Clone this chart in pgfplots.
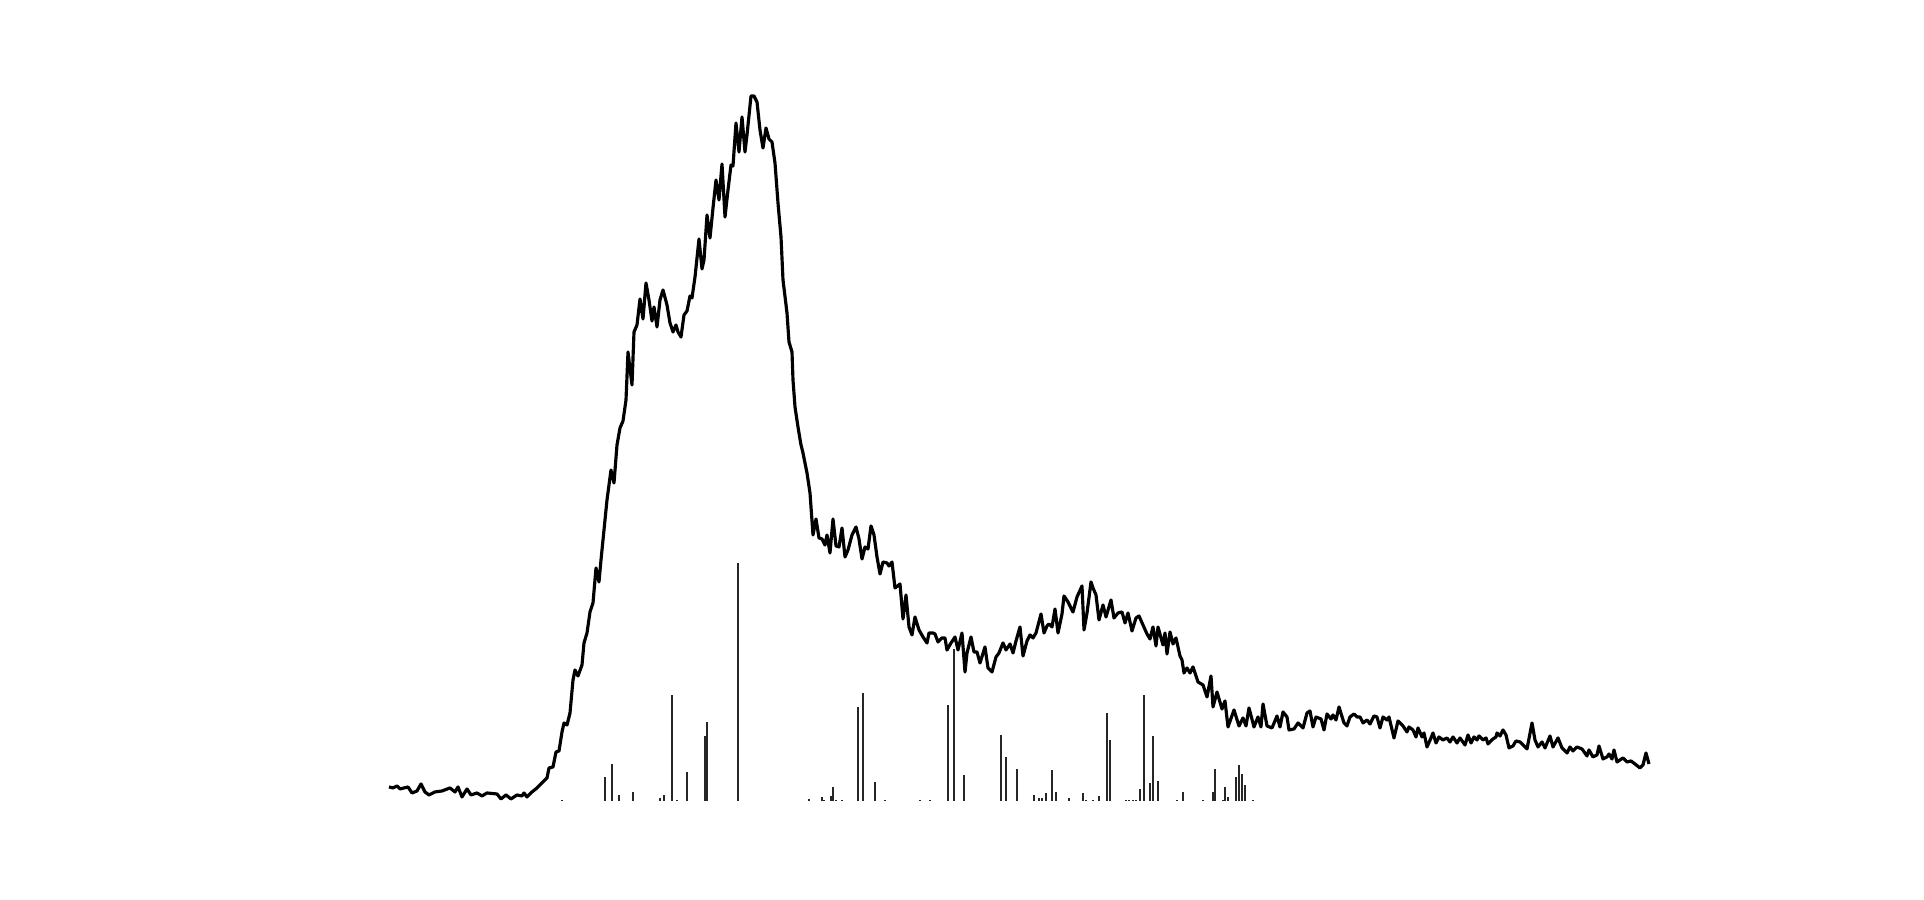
\documentclass[border=0pt]{standalone}
\usepackage{pgfplots}
\pgfplotsset{compat=1.18}
\begin{document}
\begin{tikzpicture}
\begin{axis}[
  width=19.24cm, height=9cm, scale only axis,
  hide axis,
  xmin=0, xmax=1924, ymin=-99, ymax=801,
  clip=false,
]
% reference pattern (sticks)
\addplot[ycomb, line width=0.4pt, black!85, mark=none] coordinates {
(562,1) (605,24) (612,37) (619,6) (633,9) (660,3) (664,6) (672,106) (677,1)
(687,29) (705,65) (707,79) (738,238) (809,2) (822,4) (824,1) (831,5) (833,14)
(836,1) (842,1) (858,94) (863,108) (875,19) (885,1) (920,1) (930,1) (948,96)
(954,152) (964,26) (1001,66) (1006,44) (1017,32) (1034,6) (1039,3) (1042,3)
(1046,8) (1052,31) (1056,9) (1069,3) (1083,8) (1086,1) (1093,1) (1099,5)
(1107,88) (1110,61) (1126,1) (1129,1) (1133,1) (1136,1) (1140,12) (1144,106)
(1150,18) (1153,65) (1158,20) (1177,1) (1183,9) (1203,1) (1213,9) (1215,32)
(1223,1) (1225,14) (1228,4) (1236,24) (1239,36) (1242,27) (1245,16) (1253,1)
};
% measured pattern
\addplot[black, line width=0.9pt, line join=round, mark=none] coordinates {
(389,14) (393,13) (397,15) (400,12) (408,14) (412,8) (417,10) (421,17) (425,9)
(429,6) (435,9) (442,10) (450,13) (455,9) (458,14) (462,4) (467,12) (471,6)
(477,8) (482,5) (487,8) (497,7) (501,2) (506,6) (511,2) (517,6) (522,5) (524,8)
(527,4) (532,9) (537,13) (543,19) (547,23) (549,33) (553,34) (556,49) (559,50)
(562,69) (564,78) (567,76) (570,88) (573,121) (575,131) (578,125) (582,136)
(584,158) (587,168) (590,189) (593,198) (596,233) (599,219) (601,241) (604,271)
(607,301) (611,331) (614,318) (617,356) (620,373) (623,380) (626,401) (628,449)
(632,416) (634,469) (637,476) (640,502) (643,482) (646,518) (649,501) (652,480)
(654,494) (657,474) (660,501) (663,511) (667,496) (670,478) (673,469) (676,476)
(678,469) (681,464) (684,486) (687,490) (690,505) (692,503) (695,524) (699,562)
(702,532) (704,541) (707,586) (710,563) (713,593) (716,621) (719,601) (722,637)
(725,584) (728,611) (731,636) (733,635) (736,678) (739,649) (742,684) (745,649)
(747,666) (751,705) (754,705) (757,699) (760,671) (763,653) (766,673) (769,662)
(772,659) (775,638) (778,598) (781,564) (783,521) (787,488) (789,459) (792,449)
(793,421) (795,394) (798,374) (801,356) (803,348) (807,328) (810,308) (813,266)
(816,282) (819,263) (822,262) (825,256) (827,266) (830,248) (833,282) (836,255)
(839,254) (842,273) (845,244) (848,251) (852,266) (856,274) (859,262) (862,242)
(865,254) (868,252) (871,275) (874,266) (877,244) (880,227) (883,239) (887,238)
(889,235) (892,239) (895,213) (900,217) (903,182) (906,206) (909,174) (912,166)
(915,184) (919,171) (923,164) (927,158) (929,168) (933,168) (935,167) (938,159)
(942,163) (945,163) (947,151) (951,158) (955,164) (958,151) (962,168) (965,129)
(967,148) (971,164) (974,149) (977,149) (980,138) (985,154) (988,133) (992,129)
(996,144) (999,148) (1003,158) (1006,151) (1010,157) (1013,148) (1016,160)
(1020,174) (1023,145) (1027,160) (1030,166) (1033,163) (1036,168) (1041,187)
(1044,168) (1047,175) (1049,177) (1052,174) (1055,192) (1058,168) (1062,187)
(1064,205) (1068,199) (1073,189) (1077,204) (1082,215) (1084,171) (1087,188)
(1091,219) (1093,213) (1096,206) (1099,181) (1103,196) (1106,184) (1111,201)
(1114,183) (1118,188) (1122,189) (1125,178) (1128,188) (1132,170) (1136,183)
(1139,185) (1143,176) (1147,167) (1150,162) (1153,174) (1156,155) (1158,174)
(1163,156) (1165,168) (1167,147) (1170,169) (1173,157) (1176,163) (1180,145)
(1182,141) (1184,128) (1187,133) (1190,128) (1193,134) (1198,119) (1203,116)
(1207,104) (1211,125) (1213,94) (1217,109) (1222,92) (1225,100) (1228,74)
(1234,91) (1239,75) (1243,83) (1246,75) (1249,93) (1254,74) (1258,84) (1261,74)
(1263,97) (1267,75) (1272,73) (1277,85) (1280,74) (1283,89) (1287,84) (1289,71)
(1294,72) (1298,78) (1303,73) (1307,88) (1310,90) (1313,74) (1316,84) (1321,82)
(1324,71) (1327,87) (1331,82) (1333,86) (1336,81) (1339,94) (1344,78) (1347,75)
(1350,84) (1354,87) (1357,84) (1360,84) (1363,78) (1367,81) (1370,77) (1374,85)
(1377,84) (1380,73) (1383,84) (1387,81) (1389,84) (1394,63) (1398,80) (1403,75)
(1407,69) (1409,74) (1413,71) (1416,64) (1418,73) (1422,64) (1424,68) (1427,54)
(1431,63) (1433,68) (1436,58) (1439,64) (1443,61) (1447,63) (1450,59) (1453,64)
(1457,58) (1460,63) (1465,56) (1468,66) (1471,58) (1474,64) (1477,61) (1479,65)
(1483,61) (1486,63) (1488,57) (1493,62) (1496,64) (1497,68) (1500,65) (1503,71)
(1506,66) (1509,53) (1513,55) (1516,60) (1520,59) (1523,56) (1527,52) (1532,78)
(1535,61) (1538,54) (1542,59) (1545,53) (1550,65) (1553,54) (1558,63) (1562,53)
(1567,48) (1570,54) (1573,50) (1577,54) (1582,52) (1587,45) (1589,51) (1593,44)
(1597,46) (1599,55) (1603,42) (1607,44) (1609,47) (1612,42) (1614,51) (1617,39)
(1623,43) (1627,39) (1631,40) (1635,37) (1640,33) (1643,36) (1646,48) (1649,37)
};
\path (rel axis cs:0,0) rectangle (rel axis cs:1,1);
\end{axis}
\end{tikzpicture}
\end{document}
